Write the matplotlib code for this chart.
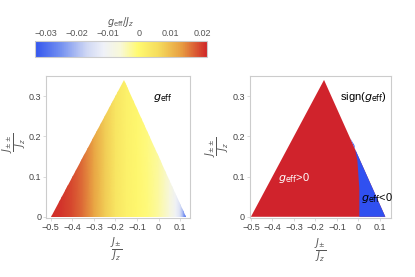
import numpy as np
import matplotlib
matplotlib.use("Agg")
import matplotlib.pyplot as plt
from matplotlib.colors import LinearSegmentedColormap, Normalize
from matplotlib.patches import Polygon
import matplotlib.cm as cm

plt.rcParams["mathtext.fontset"] = "dejavusans"
plt.rcParams["font.family"] = ["Liberation Sans", "DejaVu Sans"]

# triangle of the allowed region (J+-/Jz, J++/Jz)
tri_x = [-0.5, 0.125, -0.16]
tri_y = [0.0, 0.0, 0.34]

# g_eff/J_z, rows = J++ values, cols = J+- values
grid_x = [-0.5, -0.45, -0.4, -0.35, -0.3, -0.25, -0.2, -0.15, -0.1, -0.05,
          0.0, 0.05, 0.08, 0.1, 0.115, 0.125]
grid_y = [0.0, 0.17, 0.34]
g_eff = [
    [0.021, 0.0205, 0.019, 0.0165, 0.0125, 0.008, 0.004, 0.0015, 0.0002,
     -0.0012, -0.003, -0.0065, -0.011, -0.015, -0.022, -0.030],
    [0.021, 0.0205, 0.019, 0.0165, 0.0125, 0.008, 0.004, 0.0015, 0.0002,
     -0.0013, -0.0032, -0.0068, -0.011, -0.015, -0.022, -0.030],
    [0.021, 0.0205, 0.019, 0.0165, 0.0125, 0.008, 0.004, 0.0015, 0.0002,
     -0.0014, -0.0034, -0.0070, -0.011, -0.015, -0.022, -0.030],
]

# g_eff = 0 line in the right panel
zero_x = [0.004, 0.004, -0.005, -0.019, -0.038]
zero_y = [0.0, 0.07, 0.14, 0.178, 0.195]

cbar_ticks = [-0.03, -0.02, -0.01, 0, 0.01, 0.02]

cmap = LinearSegmentedColormap.from_list("temp", [
    (0.00, "#3355ee"), (0.15, "#7390f0"), (0.30, "#cfd7f4"),
    (0.40, "#eff1f8"), (0.50, "#f8f8d8"), (0.60, "#fffa70"),
    (0.72, "#f5dc5c"), (0.85, "#e8a042"), (1.00, "#d02828")])
norm = Normalize(-0.0335, 0.0215)

grey = "#555555"
frame = "#cccccc"

fig = plt.figure(figsize=(4.15, 2.77), dpi=100)
axL = fig.add_axes([0.111, 0.213, 0.347, 0.513])
axR = fig.add_axes([0.602, 0.213, 0.340, 0.513])
cax = fig.add_axes([0.084, 0.793, 0.414, 0.060])

# left: g_eff colour map clipped to the triangle
X, Y = np.meshgrid(grid_x, grid_y)
mesh = axL.pcolormesh(X, Y, np.array(g_eff), cmap=cmap, norm=norm,
                      shading="gouraud")
clip = Polygon(np.column_stack([tri_x, tri_y]), closed=True,
               transform=axL.transData, facecolor="none", edgecolor="none")
axL.add_patch(clip)
mesh.set_clip_path(clip)
axL.text(0.021, 0.295, r"$g_{\rm eff}$", fontsize=8, ha="center", va="center")

# right: sign of g_eff
axR.fill(tri_x, tri_y, color="#d0232c", lw=0)
blue_x = zero_x + [tri_x[1]]
blue_y = zero_y + [0.0]
axR.fill(blue_x, blue_y, color="#3050f0", lw=0)
axR.text(0.025, 0.298, r"sign($g_{\rm eff}$)", fontsize=8, ha="center",
         va="center")
axR.text(-0.30, 0.097, r"$g_{\rm eff}$>0", fontsize=8, color="white",
         ha="center", va="center")
axR.text(0.086, 0.047, r"$g_{\rm eff}$<0", fontsize=8, color="black",
         ha="center", va="center")

panels = [(axL, (-0.522, 0.146), (-0.12, 0.53), (0.49, -0.127)),
          (axR, (-0.505, 0.151), (-0.125, 0.50), (0.50, -0.134))]
for ax, xl, ylab_at, xlab_at in panels:
    ax.set_xlim(*xl)
    ax.set_ylim(-0.003, 0.35)
    ax.set_xticks([-0.5, -0.4, -0.3, -0.2, -0.1, 0, 0.1])
    ax.set_xticklabels(["\u22120.5", "\u22120.4", "\u22120.3", "\u22120.2",
                        "\u22120.1", "0", "0.1"])
    ax.set_yticks([0, 0.1, 0.2, 0.3])
    ax.set_yticklabels(["0", "0.1", "0.2", "0.3"])
    ax.tick_params(labelsize=6.5, colors=frame, length=2, width=0.5, pad=1.5,
                   labelcolor="#444444")
    for s in ax.spines.values():
        s.set_color(frame)
        s.set_linewidth(0.8)
    ax.set_xlabel(r"$\frac{J_{\pm}}{J_z}$", fontsize=10, color=grey)
    ax.set_ylabel(r"$\frac{J_{\pm\pm}}{J_z}$", fontsize=10, color=grey)
    ax.yaxis.set_label_coords(*ylab_at)
    ax.xaxis.set_label_coords(*xlab_at)

# colour bar
cb = fig.colorbar(cm.ScalarMappable(norm=norm, cmap=cmap), cax=cax,
                  orientation="horizontal", ticks=cbar_ticks)
cb.ax.xaxis.set_ticks_position("top")
cb.ax.set_xticklabels(["\u22120.03", "\u22120.02", "\u22120.01", "0", "0.01",
                       "0.02"])
cb.ax.tick_params(labelsize=6.5, colors=grey, length=0, pad=2)
cb.outline.set_edgecolor(frame)
cb.outline.set_linewidth(0.8)
fig.text(0.29, 0.92, r"$g_{\rm eff}/J_z$", fontsize=7, color=grey,
         ha="center", va="center")

fig.savefig("out.png", dpi=100)
